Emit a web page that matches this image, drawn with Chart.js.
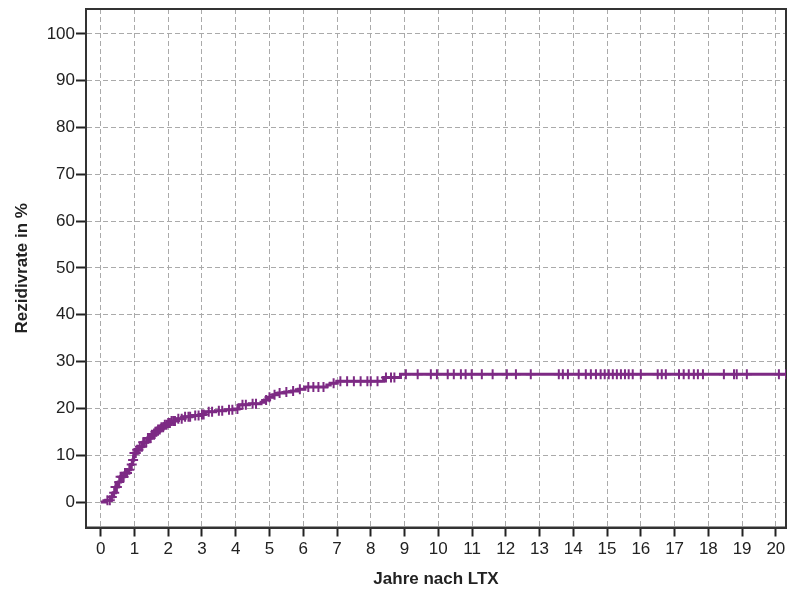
<!DOCTYPE html>
<html><head><meta charset="utf-8">
<script src="https://cdn.jsdelivr.net/npm/chart.js@4/dist/chart.umd.min.js"></script>
<style>html,body{margin:0;padding:0;background:#fff}#wrap{width:790px;height:596px}</style>
</head><body><div id="wrap"><canvas id="c" width="790" height="596"></canvas></div>
<script>
// Cumulative recurrence rate (%) step function: event times (years) and values
const eventTimes = [0, 0.15, 0.3, 0.37, 0.44, 0.52, 0.59, 0.7, 0.8, 0.88,
  0.95, 0.98, 1.05, 1.13, 1.25, 1.39, 1.5, 1.6, 1.7, 1.8,
  1.9, 2.0, 2.1, 2.25, 2.45, 2.7, 2.95, 3.1, 3.4, 3.7,
  3.95, 4.1, 4.4, 4.75, 4.85, 4.95, 5.1, 5.25, 5.45, 5.65,
  5.85, 6.05, 6.7, 6.8, 7.0, 8.38, 8.88, 20.4];
const eventRates = [0, 0.4, 1.1, 2.0, 3.2, 4.3, 5.4, 6.2, 6.9, 8.0,
  9.0, 10.5, 11.2, 11.8, 12.8, 13.7, 14.4, 15.0, 15.5, 16.0,
  16.5, 16.9, 17.3, 17.8, 18.2, 18.5, 18.7, 19.3, 19.5, 19.7,
  19.9, 20.8, 21.0, 21.3, 21.8, 22.4, 22.9, 23.3, 23.5, 23.7,
  24.1, 24.6, 25.0, 25.4, 25.8, 26.6, 27.3, 27.3];
// Censored observations (years)
const censorTimes = [0.2, 0.27, 0.33, 0.4, 0.44, 0.48, 0.55, 0.59, 0.63, 0.68, 0.72, 0.78, 0.85, 0.92,
  0.96, 1.0, 1.04, 1.08, 1.12, 1.16, 1.22, 1.26, 1.3, 1.35, 1.4, 1.44, 1.48, 1.52, 1.58, 1.62, 1.65,
  1.7, 1.75, 1.8, 1.85, 1.9, 1.95, 2.0,
  2.05, 2.1, 2.15, 2.2, 2.3, 2.4, 2.5, 2.6, 2.65, 2.8, 2.9, 3.0, 3.05, 3.2, 3.3,
  3.5, 3.6, 3.8, 3.9, 4.05, 4.2, 4.3, 4.5, 4.6, 4.9, 5.0, 5.15, 5.3, 5.5,
  5.7, 5.9, 6.15, 6.3, 6.45, 6.6, 6.9, 7.1, 7.3, 7.5, 7.7, 7.9, 8.0, 8.2,
  8.45, 8.6, 8.7, 9.04, 9.39, 9.78, 9.96, 10.28, 10.46, 10.67, 10.81, 10.99,
  11.29, 11.61, 12.03, 12.3, 12.74, 13.57, 13.69, 13.84, 14.16, 14.37, 14.52,
  14.67, 14.81, 14.93, 15.05, 15.17, 15.29, 15.41, 15.53, 15.64, 15.76, 16.0,
  16.5, 16.62, 16.74, 17.13, 17.27, 17.42, 17.57, 17.69, 17.84, 18.46, 18.76,
  18.84, 19.14, 20.09, 20.3];
const xTickValues = [0,1,2,3,4,5,6,7,8,9,10,11,12,13,14,15,16,17,18,19,20];
const yTickValues = [0,10,20,30,40,50,60,70,80,90,100];
const xTitle = 'Jahre nach LTX';
const yTitle = 'Rezidivrate in %';

function rateAt(t) {
  let r = 0;
  for (let i = 0; i < eventTimes.length; i++) if (eventTimes[i] <= t) r = eventRates[i];
  return r;
}
const curve = eventTimes.map((t, i) => ({x: t, y: eventRates[i]}));
const censors = censorTimes.map(t => ({x: t, y: rateAt(t)}));

const purple = '#7D2A84';
const boxPlugin = {
  id: 'box',
  beforeDatasetsDraw(chart) {
    const {ctx, chartArea: a} = chart;
    ctx.save();
    ctx.strokeStyle = '#333';
    ctx.lineWidth = 2;
    ctx.strokeRect(a.left, a.top, a.right - a.left, a.bottom - a.top);
    ctx.restore();
  }
};

const tickFont = {family: "'Liberation Sans', Arial, sans-serif", size: 17};
const titleFont = {family: "'Liberation Sans', Arial, sans-serif", size: 17, weight: 'bold'};

new Chart(document.getElementById('c'), {
  type: 'scatter',
  data: {
    datasets: [
      {data: curve, showLine: true, stepped: 'before', borderColor: purple, borderWidth: 3,
       pointRadius: 0, fill: false, order: 2},
      {data: censors, showLine: false, pointStyle: 'cross', pointRadius: 5,
       borderColor: purple, backgroundColor: purple, pointBorderWidth: 2, order: 1}
    ]
  },
  options: {
    responsive: false, animation: false, devicePixelRatio: 1,
    clip: {left: 0, top: 0, right: 0, bottom: 0},
    layout: {autoPadding: false, padding: {top: 9, right: 4, left: 0, bottom: 0}},
    plugins: {legend: {display: false}, tooltip: {enabled: false}},
    scales: {
      x: {
        type: 'linear', min: -0.435, max: 20.3,
        afterBuildTicks: s => { s.ticks = xTickValues.map(v => ({value: v})); },
        afterFit: s => { s.height = 68.5; s.paddingLeft = 0; s.paddingRight = 0; },
        ticks: {color: '#222', font: tickFont, padding: 3, maxRotation: 0, autoSkip: false,
                callback: v => String(v)},
        grid: {color: '#aaaaaa', lineWidth: 1, drawTicks: true, tickLength: 9,
               tickColor: '#222', tickWidth: 2, tickBorderDash: []},
        border: {display: true, color: '#333', width: 2, dash: [5, 3]},
        title: {display: true, text: xTitle, color: '#222', font: titleFont, padding: {top: 0, bottom: 6}}
      },
      y: {
        type: 'linear', min: -5.43, max: 105.3,
        afterBuildTicks: s => { s.ticks = yTickValues.map(v => ({value: v})); },
        afterFit: s => { s.width = 86; s.paddingTop = 0; s.paddingBottom = 0; },
        ticks: {color: '#222', font: tickFont, padding: 1, autoSkip: false, callback: v => String(v)},
        grid: {color: '#aaaaaa', lineWidth: 1, drawTicks: true, tickLength: 10,
               tickColor: '#222', tickWidth: 2, tickBorderDash: []},
        border: {display: true, color: '#333', width: 2, dash: [5, 3]},
        title: {display: true, text: yTitle, color: '#222', font: titleFont, padding: {top: 12, bottom: 0}}
      }
    }
  },
  plugins: [boxPlugin]
});
</script></body></html>
